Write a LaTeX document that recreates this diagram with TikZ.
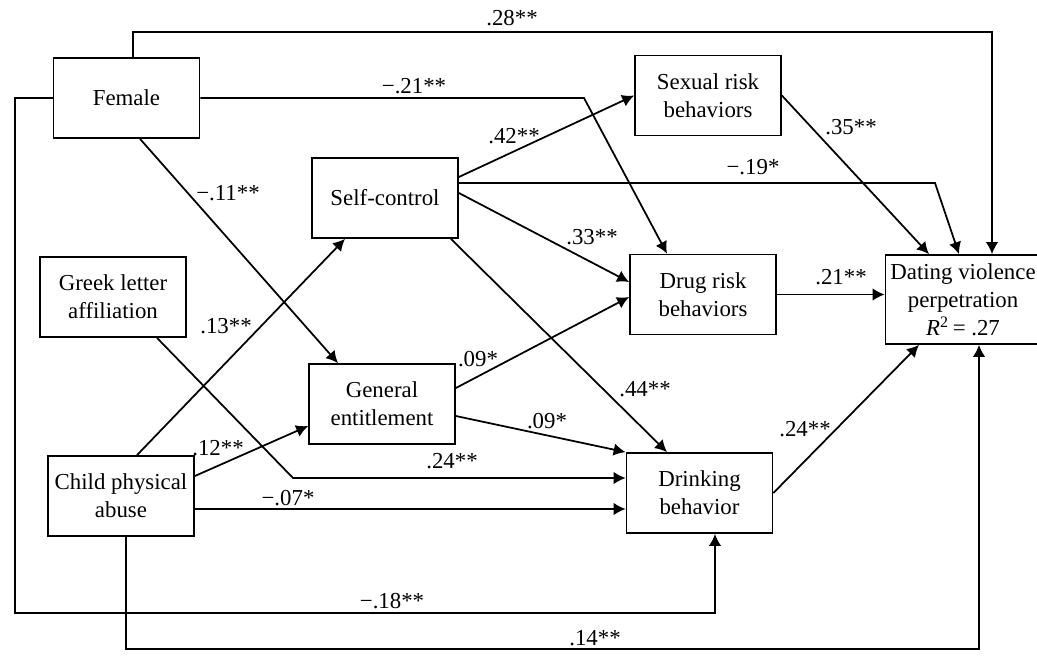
\documentclass[tikz,border=0pt]{standalone}
\usepackage{fontspec}
\setmainfont{Liberation Serif}
\usetikzlibrary{arrows.meta}

\tikzset{
  var/.style={draw, line width=1pt, align=center, minimum width=2.92cm,
    minimum height=1.6cm, inner sep=2pt, font=\fontsize{13}{16}\selectfont},
  link/.style={line width=1pt, -{Latex[length=2.4mm,width=2.5mm]}},
  coef/.style={inner sep=1pt, font=\fontsize{13}{16}\selectfont}
}

\begin{document}
\begin{tikzpicture}[x=0.02cm, y=-0.02cm]
    \useasboundingbox (0,0) rectangle (1037,656);
    % variables
    \node[var] (female) at (126.5,98) {Female};
    \node[var] (greek) at (113,297) {Greek letter\\affiliation};
    \node[var] (child) at (121,496) {Child physical\\abuse};
    \node[var] (selfc) at (385,198) {Self-control};
    \node[var] (gent) at (382,404) {General\\entitlement};
    \node[var] (sexual) at (708,95.5) {Sexual risk\\behaviors};
    \node[var] (drug) at (703,294.5) {Drug risk\\behaviors};
    \node[var] (drink) at (699.5,493) {Drinking\\behavior};
    \node[var, minimum width=3.1cm, minimum height=1.78cm] (dating) at (963,299.5)
        {Dating violence\\perpetration\\\textit{R}\textsuperscript{2}\,= .27};
    % bends
    \coordinate (k28) at (992,32);
    \coordinate (k21) at (584,98);
    \coordinate (k18) at (15,613);
    \coordinate (k24) at (293,478);
    \coordinate (k07) at (300,509);
    \coordinate (k14) at (979,649);
    \coordinate (k19) at (935,183);
    % paths
    \draw[link] ([xshift=0.13cm]female.north) |- (k28) -- (k28 |- dating.north);
    \draw[link] (female.east) -- (k21) -- ([xshift=-0.72cm]drug.north);
    \draw[link] ([xshift=0.27cm]female.south) -- ([xshift=-0.88cm]gent.north);
    \draw[link] (female.west) -| (k18) -| ([xshift=0.31cm]drink.south);
    \draw[link] ([xshift=0.88cm]greek.south) -- (k24) -- (k24 -| drink.west);
    \draw[link] ([xshift=0.32cm]child.north) -- ([xshift=-0.8cm]selfc.south);
    \draw[link] ([yshift=0.4cm]child.east) -- ([yshift=-0.44cm]gent.west);
    \draw[link] (k07 -| child.east) -- (k07 -| drink.west);
    \draw[link] ([xshift=0.1cm]child.south) |- (k14) -- (k14 |- dating.south);
    \draw[link] ([yshift=0.42cm]selfc.east) -- (sexual.west);
    \draw[link] (k19 -| selfc.east) -- (k19) -- ([xshift=-0.08cm]dating.north);
    \draw[link] ([yshift=0.1cm]selfc.east) -- ([yshift=0.25cm]drug.west);
    \draw[link] ([xshift=-0.16cm]selfc.south east) -- ([xshift=-0.65cm]drink.north);
    \draw[link] (sexual.east) -- ([xshift=-0.68cm]dating.north);
    \draw[link] (drug.east) -- (drug.east -| dating.west);
    \draw[link] ([yshift=0.32cm]gent.east) -- ([yshift=-0.05cm]drug.west);
    \draw[link] ([yshift=-0.24cm]gent.east) -- (drink.north west);
    \draw[link] (drink.east) -- ([xshift=-0.88cm]dating.south);
    % coefficients
    \node[coef] (l28) at (512,18) {.28**};
    \node[coef] (l21) at (414,86) {−.21**};
    \node[coef] (l11) at (228,193) {−.11**};
    \node[coef] (l42) at (514,136) {.42**};
    \node[coef] (l19) at (753,167) {−.19*};
    \node[coef] (l35) at (851,127) {.35**};
    \node[coef] (l33) at (592,237) {.33**};
    \node[coef] (l21b) at (841,277) {.21**};
    \node[coef] (l13) at (226,326) {.13**};
    \node[coef] (l09a) at (478,359) {.09*};
    \node[coef] (l12) at (218,448) {.12**};
    \node[coef] (l24a) at (452,461) {.24**};
    \node[coef] (l07) at (288,498) {−.07*};
    \node[coef] (l18) at (392,601) {−.18**};
    \node[coef] (l44) at (645,389) {.44**};
    \node[coef] (l09b) at (547,421) {.09*};
    \node[coef] (l24b) at (805,429) {.24**};
    \node[coef] (l14) at (595,638) {.14**};
\end{tikzpicture}
\end{document}
